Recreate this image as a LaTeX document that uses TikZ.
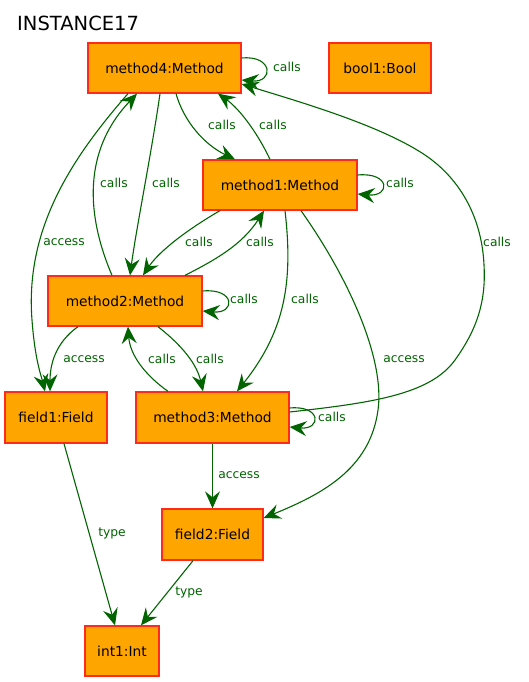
\documentclass[tikz,border=0pt]{standalone}
\usepackage{fontspec}
\setmainfont{DejaVu Sans}
\usetikzlibrary{arrows.meta}
\definecolor{nodefill}{HTML}{FFA500}
\definecolor{nodeline}{HTML}{FF2A1A}
\definecolor{edgecol}{HTML}{006400}
\tikzset{
  box/.style={draw=nodeline, fill=nodefill, line width=1.3pt, inner sep=0pt,
    font=\fontsize{13.8}{15}\selectfont},
  edge/.style={draw=edgecol, line width=1.1pt,
    -{Stealth[length=17pt,width=15pt,inset=6pt]}},
  lbl/.style={text=edgecol, font=\fontsize{12.3}{14}\selectfont, inner sep=0pt}
}
\begin{document}
\begin{tikzpicture}[x=1pt,y=-1pt]
\useasboundingbox (0,0) rectangle (529,682);
\fill[white] (0,0) rectangle (529,682);
\node[anchor=base west, inner sep=0pt, font=\fontsize{19.5}{22}\selectfont] (title) at (17,30.5) {INSTANCE17};
\node[box, minimum width=153pt, minimum height=50pt] (m4) at (164.5,68) {method4:Method};
\node[box, minimum width=102pt, minimum height=50pt] (b1) at (380,68) {bool1:Bool};
\node[box, minimum width=154pt, minimum height=50pt] (m1) at (280,185) {method1:Method};
\node[box, minimum width=154pt, minimum height=50pt] (m2) at (125,301) {method2:Method};
\node[box, minimum width=102pt, minimum height=51pt] (f1) at (56,417.5) {field1:Field};
\node[box, minimum width=153pt, minimum height=51pt] (m3) at (212.5,417.5) {method3:Method};
\node[box, minimum width=101pt, minimum height=51pt] (f2) at (212.5,534.5) {field2:Field};
\node[box, minimum width=74pt, minimum height=50pt] (i1) at (122,651) {int1:Int};
% method4 self loop
\draw[edge] ([yshift=10pt]m4.east) .. controls +(32,-3) and +(32,3) .. ([yshift=-12pt]m4.east)
  node[lbl] (l1) at (287,67) {calls};
% method4 -> method1
\draw[edge] ([xshift=11.5pt]m4.south) .. controls (184,122) and (205,145) .. ([xshift=-45pt]m1.north)
  node[lbl] (l2) at (222,125) {calls};
% method1 -> method4
\draw[edge] ([xshift=-10pt]m1.north) .. controls (255,128) and (237,107) .. ([xshift=53.5pt]m4.south)
  node[lbl] (l3) at (273,125) {calls};
% method3 -> method4
\draw[edge] ([yshift=5.5pt]m3.east) .. controls (370,403) and (430,395) .. (455,360)
  .. controls (478,328) and (486,300) .. (484,265)
  .. controls (482,220) and (462,180) .. (425,155)
  .. controls (380,125) and (300,102) .. ([yshift=-16pt]m4.east)
  node[lbl] (l4) at (497,242) {calls};
% method2 -> method4
\draw[edge] ([xshift=-13pt]m2.north) .. controls (82,205) and (88,145) .. ([xshift=-27.5pt]m4.south)
  node[lbl] (l5) at (114,183) {calls};
% method4 -> method2
\draw[edge] ([xshift=-4.5pt]m4.south) .. controls (152,150) and (136,230) .. ([xshift=5pt]m2.north)
  node[lbl] (l6) at (166,183) {calls};
% method4 -> field1
\draw[edge] ([xshift=-36.5pt]m4.south) .. controls (70,160) and (25,230) .. (32,320)
  .. controls (35,360) and (41,375) .. ([xshift=-11pt]f1.north)
  node[lbl] (l7) at (64,242) {access};
% method1 self loop
\draw[edge] ([yshift=10pt]m1.east) .. controls +(33,-3) and +(33,3) .. ([yshift=-9pt]m1.east)
  node[lbl] (l8) at (400,183) {calls};
% method1 -> method2
\draw[edge] ([xshift=-60pt]m1.south) .. controls (190,228) and (160,250) .. ([xshift=18pt]m2.north)
  node[lbl] (l9) at (199,242) {calls};
% method2 -> method1
\draw[edge] ([xshift=60pt]m2.north) .. controls (215,260) and (242,245) .. ([xshift=-16pt]m1.south)
  node[lbl] (l10) at (260,242) {calls};
% method1 -> method3
\draw[edge] ([xshift=5pt]m1.south) .. controls (293,280) and (286,330) .. ([xshift=24.5pt]m3.north)
  node[lbl] (l11) at (305,299) {calls};
% method1 -> field2
\draw[edge] ([xshift=21pt]m1.south) .. controls (350,280) and (385,360) .. (378,410)
  .. controls (370,470) and (320,495) .. ([yshift=16.5pt]f2.east)
  node[lbl] (l12) at (404,359) {access};
% method2 self loop
\draw[edge] ([yshift=10pt]m2.east) .. controls +(33,-3) and +(33,3) .. ([yshift=-10pt]m2.east)
  node[lbl] (l13) at (244,299) {calls};
% method2 -> field1
\draw[edge] ([xshift=-47pt]m2.south) .. controls (55,343) and (50,365) .. ([xshift=-6pt]f1.north)
  node[lbl] (l14) at (84,359) {access};
% method2 -> method3
\draw[edge] ([xshift=33pt]m2.south) .. controls (175,340) and (196,360) .. ([xshift=-9.5pt]m3.north)
  node[lbl] (l15) at (210,359) {calls};
% method3 -> method2
\draw[edge] ([xshift=-44.5pt]m3.north) .. controls (145,375) and (130,355) .. ([xshift=3pt]m2.south)
  node[lbl] (l16) at (162,359) {calls};
% method3 self loop
\draw[edge] ([yshift=9.5pt]m3.east) .. controls +(32,-3) and +(32,3) .. ([yshift=-9.5pt]m3.east)
  node[lbl] (l17) at (332,417) {calls};
% method3 -> field2
\draw[edge] (m3.south) -- (f2.north)
  node[lbl] (l18) at (239,475) {access};
% field1 -> int1
\draw[edge] ([xshift=8pt]f1.south) -- ([xshift=-7pt]i1.north)
  node[lbl] (l19) at (112,533) {type};
% field2 -> int1
\draw[edge] ([xshift=-19.5pt]f2.south) -- ([xshift=19pt]i1.north)
  node[lbl] (l20) at (189,592) {type};
\end{tikzpicture}
\end{document}
